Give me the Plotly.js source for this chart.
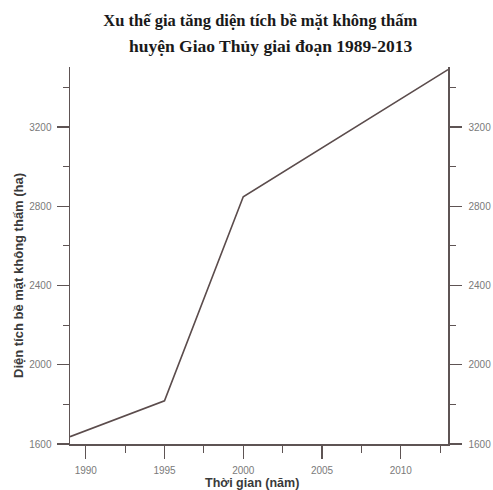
<!DOCTYPE html>
<html>
<head>
<meta charset="utf-8">
<script src="https://cdn.plot.ly/plotly-3.0.1.min.js"></script>
<style>html,body{margin:0;padding:0;background:#fff;}#chart{width:493px;height:490px;}</style>
</head>
<body>
<div id="chart"></div>
<script>
const years = [1989, 1995, 2000, 2005, 2013];
const area = [1637, 1818, 2848, 3096, 3490];
const titleLine1 = "Xu thế gia tăng diện tích bề mặt không thấm";
const titleLine2 = "huyện Giao Thủy giai đoạn 1989-2013";
const xTitle = "Thời gian (năm)";
const yTitle = "Diện tích bề mặt không thấm (ha)";
const yTicks = [1600, 2000, 2400, 2800, 3200];
const xTicks = [1990, 1995, 2000, 2005, 2010];

const axisColor = "#5e5454";
const tickFont = {family: "Liberation Sans, Arial, sans-serif", size: 10, color: "#7a7a7a"};
const titleFont = {family: "Liberation Serif, Times New Roman, serif", size: 16.5, color: "#1a1a1a"};
const title2Font = {family: "Liberation Serif, Times New Roman, serif", size: 17.5, color: "#1a1a1a"};
const axTitleFont = {family: "Liberation Sans, Arial, sans-serif", size: 12.5, color: "#3a3a3a"};

const data = [
  {x: years, y: area, type: "scatter", mode: "lines", line: {color: "#5b4c4c", width: 1.6}, showlegend: false, hoverinfo: "skip"},
  {x: years, y: area, type: "scatter", mode: "lines", yaxis: "y2", line: {color: "rgba(0,0,0,0)", width: 0}, showlegend: false, hoverinfo: "skip"}
];

const yCommon = {
  range: [1600, 3503], tickmode: "array", tickvals: yTicks, ticktext: yTicks.map(String),
  ticks: "outside", ticklen: 12, tickwidth: 1.2, tickcolor: axisColor,
  showline: true, linecolor: axisColor, linewidth: 1.5, showgrid: false, zeroline: false,
  tickfont: tickFont,
  minor: {tickvals: [1800, 2200, 2600, 3000, 3400], ticks: "outside", ticklen: 6, tickcolor: axisColor, tickwidth: 1.2, showgrid: false}
};

const layout = {
  width: 493, height: 490,
  margin: {l: 70, r: 45, t: 67, b: 46},
  paper_bgcolor: "#ffffff", plot_bgcolor: "#ffffff",
  title: {text: "<b>" + titleLine1 + "</b>", x: 0.528, xanchor: "center", xref: "container", y: 1 - 20/490, yanchor: "middle", yref: "container",
          font: titleFont},
  annotations: [
    {text: "<b>" + titleLine2 + "</b>", xref: "paper", yref: "paper", x: (270 - 70)/378, y: 1 + 21/377, xanchor: "center", yanchor: "middle", showarrow: false, font: title2Font},
    {text: "<b>" + xTitle + "</b>", xref: "paper", yref: "paper", x: (252 - 70)/378, y: -(483 - 444)/377, xanchor: "center", yanchor: "middle", showarrow: false, font: axTitleFont},
    {text: "<b>" + yTitle + "</b>", xref: "paper", yref: "paper", x: -(70 - 18)/378, y: (444 - 276)/377, xanchor: "center", yanchor: "middle", textangle: -90, showarrow: false, font: Object.assign({}, axTitleFont, {size: 13})}
  ],
  xaxis: {
    range: [1989, 2013], tickmode: "array", tickvals: xTicks, ticktext: xTicks.map(String),
    ticks: "outside", ticklen: 13, tickwidth: 1.2, tickcolor: axisColor,
    showline: true, linecolor: axisColor, linewidth: 1.5, showgrid: false, zeroline: false,
    tickfont: tickFont, ticklabelstandoff: 3,
    minor: {tickvals: [1992.5, 1997.5, 2002.5, 2007.5, 2012.5], ticks: "outside", ticklen: 7, tickcolor: axisColor, tickwidth: 1.2, showgrid: false}
  },
  yaxis: Object.assign({}, yCommon, {ticklabelstandoff: 3}),
  yaxis2: Object.assign({}, yCommon, {overlaying: "y", side: "right", ticklabelstandoff: 5, minor: Object.assign({}, yCommon.minor)})
};

Plotly.newPlot("chart", data, layout, {displayModeBar: false, staticPlot: true});
</script>
</body>
</html>
